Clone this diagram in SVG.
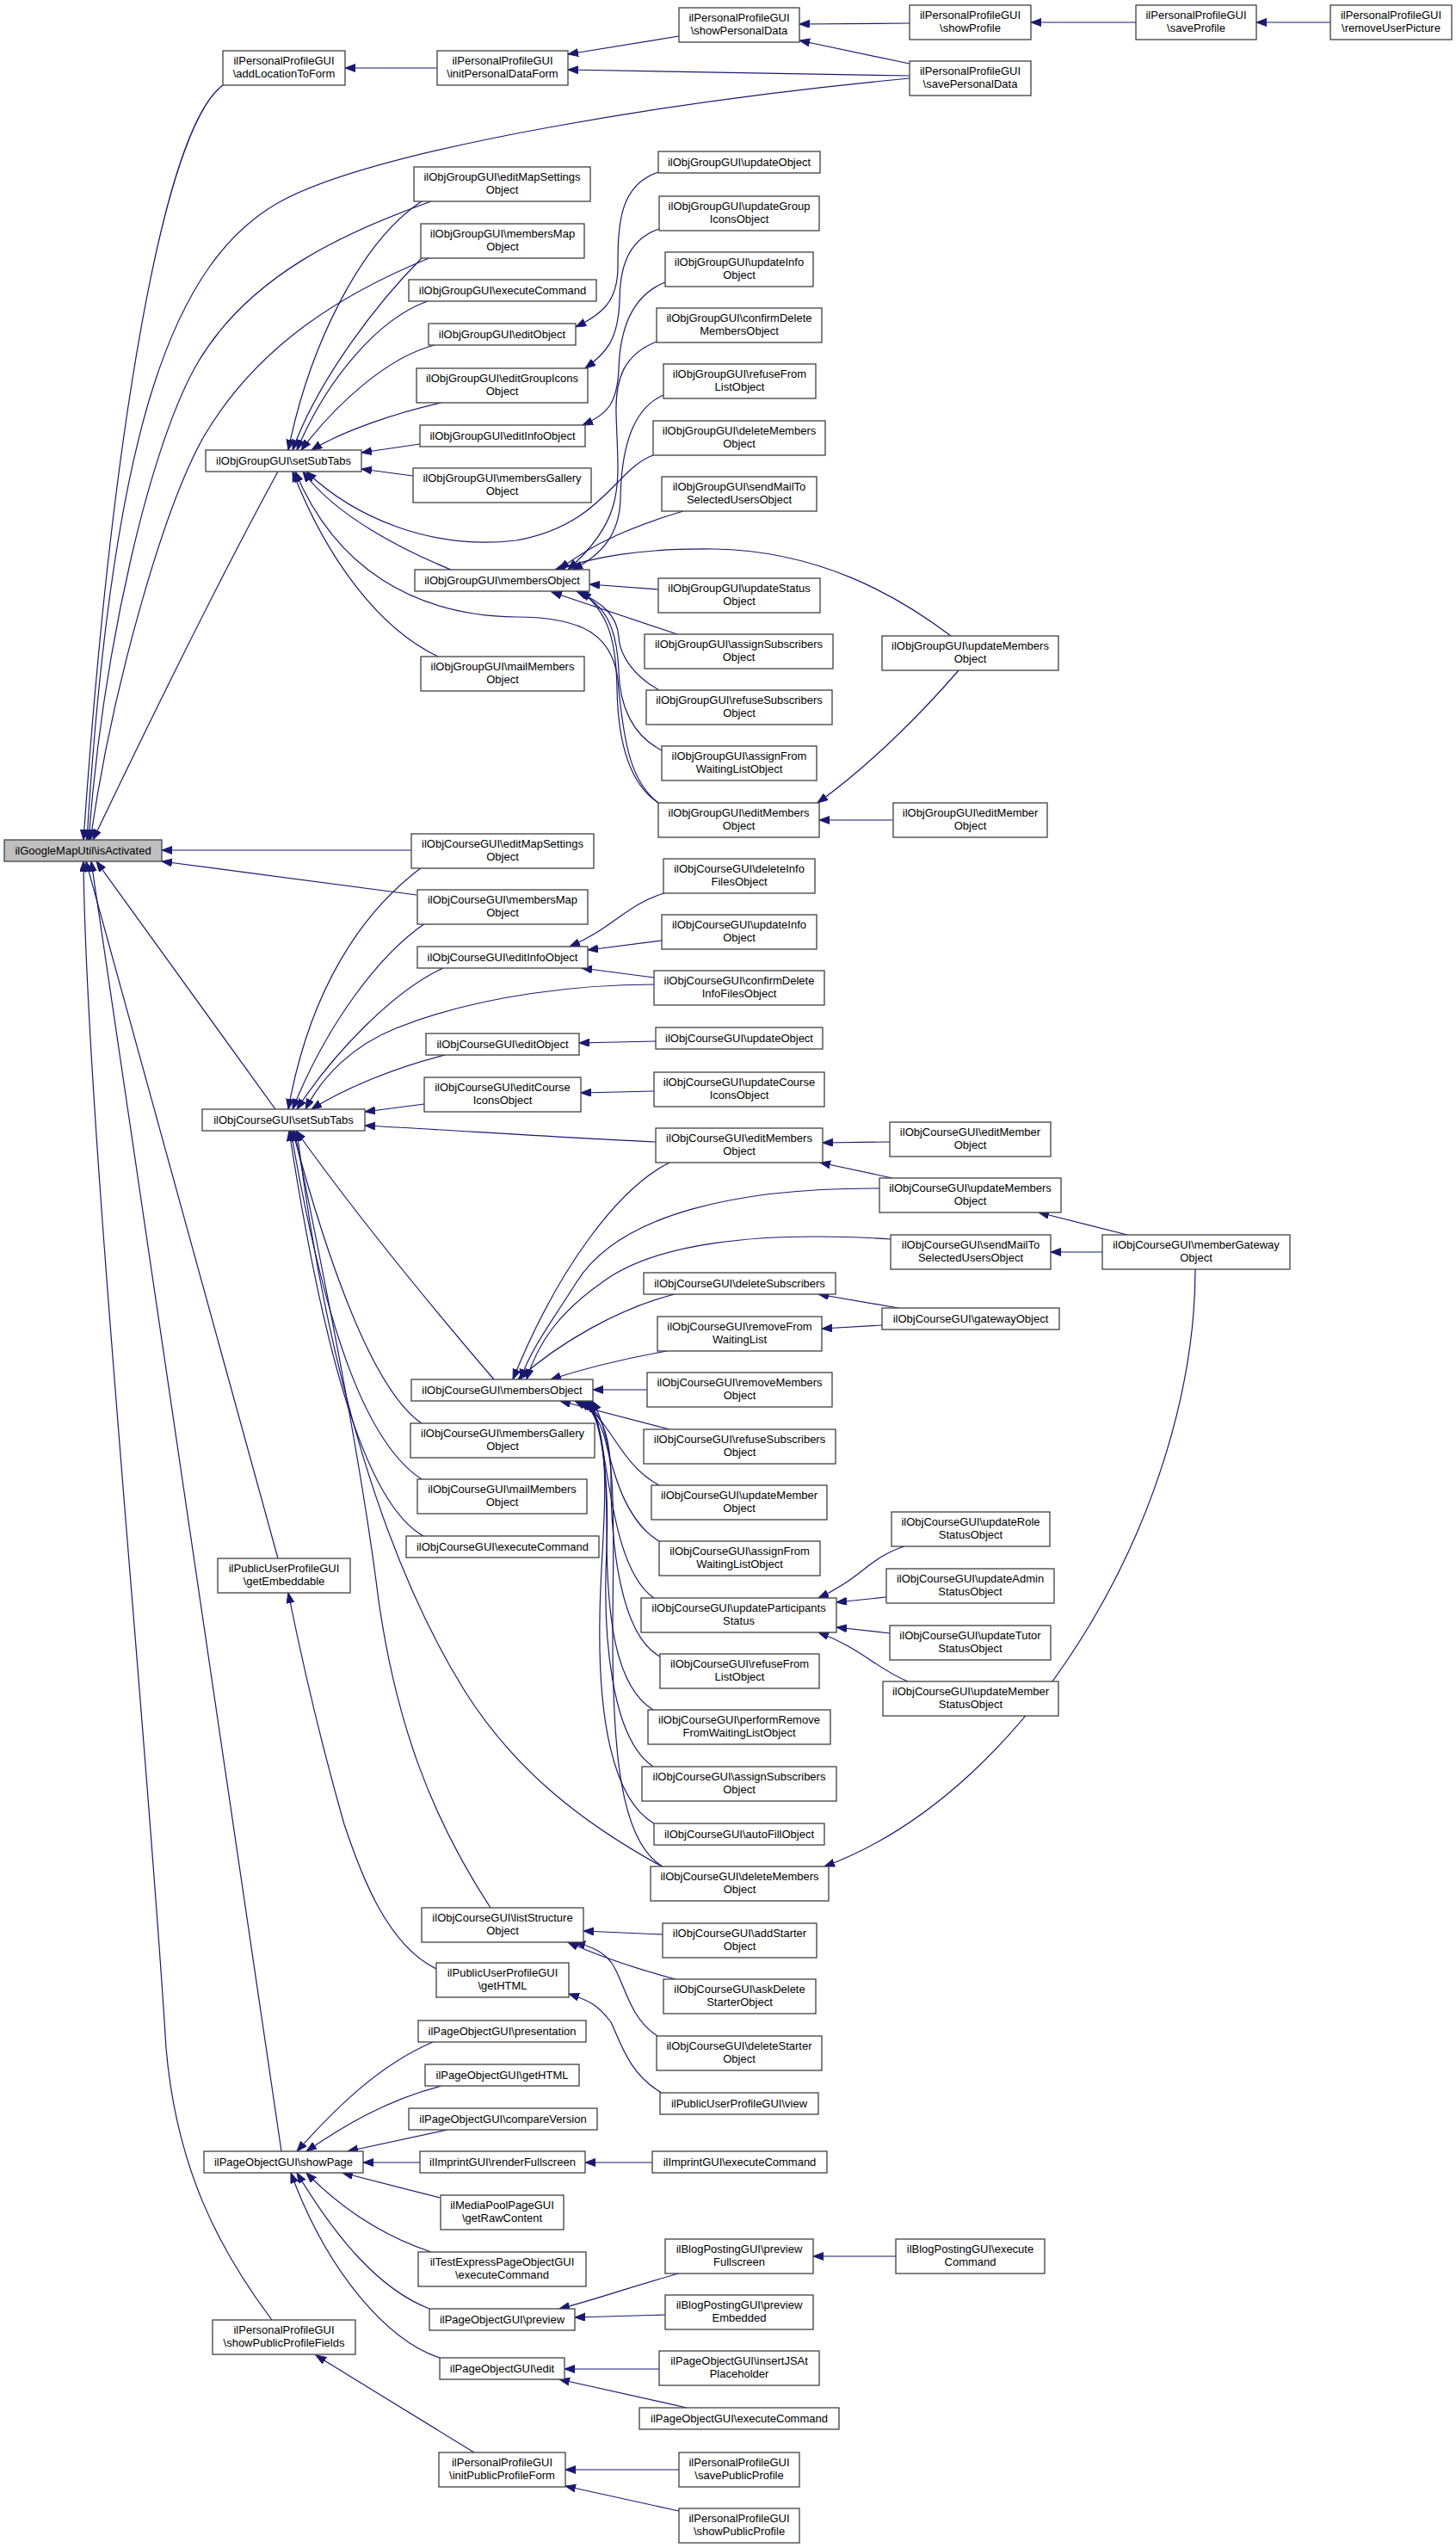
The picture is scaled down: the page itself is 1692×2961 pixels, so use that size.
<svg xmlns="http://www.w3.org/2000/svg" width="1692" height="2961" viewBox="0 0 1692 2961">
<style>
.e{fill:none;stroke:#191970;stroke-width:1.2;marker-end:url(#ah)}
.n rect{fill:#fff;stroke:#404040;stroke-width:1.3}
.r rect{fill:#bfbfbf;stroke:#404040;stroke-width:1.3}
text{font-family:"Liberation Sans",Arial,sans-serif;font-size:13px;text-anchor:middle;fill:#000}
</style>
<defs>
<marker id="ah" markerUnits="userSpaceOnUse" markerWidth="13" markerHeight="10" refX="12" refY="4.5" orient="auto">
<path d="M0,0 L12,4.5 L0,9 z" fill="#191970" stroke="#191970" stroke-width="1"/>
</marker>
</defs>
<rect width="1692" height="2961" fill="#fff"/>
<g id="edges">
<path class="e" d="M259,99 C190,150 130,500 97,976"/>
<path class="e" d="M508,79 L401,79"/>
<path class="e" d="M789,42 L660,63"/>
<path class="e" d="M1057,88 L660,81"/>
<path class="e" d="M1057,74 L929,47"/>
<path class="e" d="M1057,27 L929,28"/>
<path class="e" d="M1320,26 L1198,26"/>
<path class="e" d="M1546,26 L1460,26"/>
<path class="e" d="M1057,91 C800,115 450,170 330,232 C200,300 130,500 101,976"/>
<path class="e" d="M323,548 Q240,700 108,976"/>
<path class="e" d="M501,234 C400,270 290,320 230,421 C175,515 120,750 103,976"/>
<path class="e" d="M501,299 C400,340 300,400 237,507 C190,590 130,800 105,976"/>
<path class="e" d="M490,234 C420,280 360,400 335,523"/>
<path class="e" d="M490,300 C440,350 370,440 340,523"/>
<path class="e" d="M497,350 C440,370 380,440 345,523"/>
<path class="e" d="M505,401 C450,415 390,470 350,523"/>
<path class="e" d="M513,468 C460,480 400,500 362,523"/>
<path class="e" d="M488,516 L420,526"/>
<path class="e" d="M480,553 L420,545"/>
<path class="e" d="M524,662 C470,640 390,600 352,548"/>
<path class="e" d="M759,529 C715,545 700,610 600,628 C500,640 410,600 356,548"/>
<path class="e" d="M765,933 C735,910 725,870 718,790 C712,740 680,717 600,717 C480,715 390,660 343,548"/>
<path class="e" d="M509,763 C440,730 380,650 340,548"/>
<path class="e" d="M765,200 C720,215 718,260 718,310 C718,350 700,365 669,380"/>
<path class="e" d="M766,266 C725,280 720,320 720,350 C718,395 705,410 680,428"/>
<path class="e" d="M773,328 C730,345 720,390 719,430 C717,470 705,482 677,494"/>
<path class="e" d="M763,397 C725,412 715,440 716,480 C718,560 730,600 660,662"/>
<path class="e" d="M771,459 C735,475 722,520 721,580 C720,620 700,645 665,662"/>
<path class="e" d="M794,594 C740,610 690,630 650,662"/>
<path class="e" d="M1105,739 C1040,690 950,640 830,638 C740,637 690,648 645,662"/>
<path class="e" d="M765,685 L685,679"/>
<path class="e" d="M787,737 L641,688"/>
<path class="e" d="M766,802 C735,785 720,760 719,740 C717,715 700,700 670,687"/>
<path class="e" d="M769,872 C735,855 720,820 719,780 C717,730 705,705 672,687"/>
<path class="e" d="M765,933 C730,910 718,860 717,800 C716,740 705,710 675,687"/>
<path class="e" d="M1038,953 L952,953"/>
<path class="e" d="M1114,779 C1070,830 1010,890 950,933"/>
<path class="e" d="M478,988 L188,988"/>
<path class="e" d="M484,1040 L188,1001"/>
<path class="e" d="M320,1289 L112,1001"/>
<path class="e" d="M490,1008 C420,1060 360,1150 335,1289"/>
<path class="e" d="M494,1073 C440,1110 380,1190 340,1289"/>
<path class="e" d="M515,1125 C460,1150 390,1220 345,1289"/>
<path class="e" d="M760,1144 C680,1144 560,1155 460,1195 C410,1215 375,1250 355,1289"/>
<path class="e" d="M517,1226 C460,1240 400,1265 362,1289"/>
<path class="e" d="M493,1283 L424,1292"/>
<path class="e" d="M762,1327 C650,1322 520,1313 424,1308"/>
<path class="e" d="M772,1038 C730,1050 710,1080 662,1100"/>
<path class="e" d="M769,1093 L683,1104"/>
<path class="e" d="M760,1136 L676,1125"/>
<path class="e" d="M762,1210 L673,1212"/>
<path class="e" d="M760,1268 L675,1270"/>
<path class="e" d="M1034,1327 L956,1328"/>
<path class="e" d="M1037,1369 L953,1351"/>
<path class="e" d="M1310,1435 L1207,1409"/>
<path class="e" d="M1281,1455 L1221,1455"/>
<path class="e" d="M1389,1475 C1389,1750 1200,2080 958,2169"/>
<path class="e" d="M1035,1440 C880,1430 760,1445 700,1490 C650,1525 625,1560 612,1603"/>
<path class="e" d="M1022,1381 C860,1380 720,1410 670,1490 C645,1530 615,1570 605,1603"/>
<path class="e" d="M778,1351 C720,1380 650,1470 596,1603"/>
<path class="e" d="M784,1504 C720,1520 650,1560 602,1603"/>
<path class="e" d="M1044,1520 L951,1504"/>
<path class="e" d="M1025,1540 L955,1544"/>
<path class="e" d="M775,1570 C730,1578 680,1590 640,1603"/>
<path class="e" d="M752,1615 L689,1615"/>
<path class="e" d="M778,1661 L651,1628"/>
<path class="e" d="M766,1726 C735,1710 720,1680 705,1660 C695,1645 685,1636 668,1628"/>
<path class="e" d="M766,1791 C730,1770 715,1720 705,1680 C700,1655 690,1640 674,1628"/>
<path class="e" d="M760,1857 C720,1830 710,1740 700,1680 C695,1650 688,1638 677,1628"/>
<path class="e" d="M767,1925 C720,1900 710,1790 710,1720 C710,1670 700,1645 680,1628"/>
<path class="e" d="M759,1987 C715,1960 705,1880 705,1780 C705,1700 700,1650 682,1628"/>
<path class="e" d="M759,2053 C710,2020 700,1900 705,1800 C708,1720 700,1660 684,1628"/>
<path class="e" d="M760,2119 C710,2090 695,1990 697,1880 C698,1780 715,1700 686,1628"/>
<path class="e" d="M770,2169 C720,2140 712,2030 712,1900 C712,1780 720,1680 688,1628"/>
<path class="e" d="M769,2169 C680,2120 600,2060 540,1965 C450,1820 380,1600 345,1314"/>
<path class="e" d="M574,1603 C520,1540 420,1420 344,1314"/>
<path class="e" d="M490,1654 C440,1620 390,1500 340,1314"/>
<path class="e" d="M490,1719 C430,1680 380,1560 338,1314"/>
<path class="e" d="M492,1785 C430,1750 380,1600 336,1314"/>
<path class="e" d="M570,2217 C500,2110 460,2000 440,1860 C420,1700 380,1500 342,1314"/>
<path class="e" d="M770,2248 L678,2244"/>
<path class="e" d="M785,2300 C740,2288 700,2275 660,2257"/>
<path class="e" d="M764,2366 C730,2345 725,2300 710,2280 C700,2268 690,2263 668,2257"/>
<path class="e" d="M323,1811 L100,1001"/>
<path class="e" d="M507,2288 C450,2260 420,2180 400,2120 C380,2050 355,1950 335,1851"/>
<path class="e" d="M769,2432 C730,2410 720,2370 710,2350 C695,2330 685,2325 661,2317"/>
<path class="e" d="M327,2500 L106,1001"/>
<path class="e" d="M503,2373 C440,2400 390,2450 345,2500"/>
<path class="e" d="M513,2424 C450,2440 400,2470 356,2500"/>
<path class="e" d="M520,2475 L404,2500"/>
<path class="e" d="M488,2513 L422,2513"/>
<path class="e" d="M511,2554 L398,2525"/>
<path class="e" d="M501,2617 C450,2600 400,2570 356,2525"/>
<path class="e" d="M499,2683 C440,2660 390,2600 345,2525"/>
<path class="e" d="M511,2740 C450,2720 380,2640 338,2525"/>
<path class="e" d="M758,2513 L680,2513"/>
<path class="e" d="M789,2642 C740,2655 700,2670 650,2683"/>
<path class="e" d="M773,2690 L668,2693"/>
<path class="e" d="M1041,2622 L945,2622"/>
<path class="e" d="M766,2753 L656,2753"/>
<path class="e" d="M798,2798 L650,2765"/>
<path class="e" d="M316,2696 C255,2615 205,2520 193,2380 C170,2000 100,1300 97,1001"/>
<path class="e" d="M551,2850 L367,2737"/>
<path class="e" d="M789,2870 L657,2870"/>
<path class="e" d="M789,2918 L657,2889"/>
<path class="e" d="M1051,1797 C1010,1810 1000,1835 951,1857"/>
<path class="e" d="M1030,1856 L972,1862"/>
<path class="e" d="M1034,1898 L972,1891"/>
<path class="e" d="M1055,1954 C1020,1940 1000,1915 951,1897"/>
</g>
<g id="n_isActivated" class="r"><rect x="5" y="976" width="183" height="25"/><text x="96.5" y="992.5">ilGoogleMapUtil\isActivated</text></g>
<g id="n_addLocationToForm" class="n"><rect x="259" y="59" width="142" height="40"/><text x="330" y="75">ilPersonalProfileGUI</text><text x="330" y="90">\addLocationToForm</text></g>
<g id="n_initPersonalDataForm" class="n"><rect x="508" y="59" width="152" height="40"/><text x="584" y="75">ilPersonalProfileGUI</text><text x="584" y="90">\initPersonalDataForm</text></g>
<g id="n_showPersonalData" class="n"><rect x="789" y="9" width="140" height="40"/><text x="859" y="25">ilPersonalProfileGUI</text><text x="859" y="40">\showPersonalData</text></g>
<g id="n_showProfile" class="n"><rect x="1057" y="6" width="141" height="40"/><text x="1127.5" y="22">ilPersonalProfileGUI</text><text x="1127.5" y="37">\showProfile</text></g>
<g id="n_savePersonalData" class="n"><rect x="1057" y="71" width="141" height="40"/><text x="1127.5" y="87">ilPersonalProfileGUI</text><text x="1127.5" y="102">\savePersonalData</text></g>
<g id="n_saveProfile" class="n"><rect x="1320" y="6" width="140" height="40"/><text x="1390" y="22">ilPersonalProfileGUI</text><text x="1390" y="37">\saveProfile</text></g>
<g id="n_removeUserPicture" class="n"><rect x="1546" y="6" width="141" height="40"/><text x="1616.5" y="22">ilPersonalProfileGUI</text><text x="1616.5" y="37">\removeUserPicture</text></g>
<g id="n_g_setSubTabs" class="n"><rect x="239" y="523" width="181" height="25"/><text x="329.5" y="539.5">ilObjGroupGUI\setSubTabs</text></g>
<g id="n_g_editMapSettings" class="n"><rect x="481" y="194" width="205" height="40"/><text x="583.5" y="210">ilObjGroupGUI\editMapSettings</text><text x="583.5" y="225">Object</text></g>
<g id="n_g_membersMap" class="n"><rect x="489" y="260" width="190" height="40"/><text x="584" y="276">ilObjGroupGUI\membersMap</text><text x="584" y="291">Object</text></g>
<g id="n_g_executeCommand" class="n"><rect x="475" y="325" width="218" height="25"/><text x="584" y="341.5">ilObjGroupGUI\executeCommand</text></g>
<g id="n_g_editObject" class="n"><rect x="498" y="376" width="171" height="25"/><text x="583.5" y="392.5">ilObjGroupGUI\editObject</text></g>
<g id="n_g_editGroupIcons" class="n"><rect x="484" y="428" width="199" height="40"/><text x="583.5" y="444">ilObjGroupGUI\editGroupIcons</text><text x="583.5" y="459">Object</text></g>
<g id="n_g_editInfoObject" class="n"><rect x="488" y="494" width="192" height="25"/><text x="584" y="510.5">ilObjGroupGUI\editInfoObject</text></g>
<g id="n_g_membersGallery" class="n"><rect x="480" y="544" width="207" height="40"/><text x="583.5" y="560">ilObjGroupGUI\membersGallery</text><text x="583.5" y="575">Object</text></g>
<g id="n_g_membersObject" class="n"><rect x="482" y="662" width="203" height="25"/><text x="583.5" y="678.5">ilObjGroupGUI\membersObject</text></g>
<g id="n_g_mailMembers" class="n"><rect x="489" y="763" width="190" height="40"/><text x="584" y="779">ilObjGroupGUI\mailMembers</text><text x="584" y="794">Object</text></g>
<g id="n_g_updateObject" class="n"><rect x="765" y="176" width="188" height="25"/><text x="859" y="192.5">ilObjGroupGUI\updateObject</text></g>
<g id="n_g_updateGroupIcons" class="n"><rect x="766" y="228" width="186" height="40"/><text x="859" y="244">ilObjGroupGUI\updateGroup</text><text x="859" y="259">IconsObject</text></g>
<g id="n_g_updateInfo" class="n"><rect x="773" y="293" width="172" height="40"/><text x="859" y="309">ilObjGroupGUI\updateInfo</text><text x="859" y="324">Object</text></g>
<g id="n_g_confirmDeleteMembers" class="n"><rect x="763" y="358" width="192" height="40"/><text x="859" y="374">ilObjGroupGUI\confirmDelete</text><text x="859" y="389">MembersObject</text></g>
<g id="n_g_refuseFromList" class="n"><rect x="771" y="423" width="177" height="40"/><text x="859.5" y="439">ilObjGroupGUI\refuseFrom</text><text x="859.5" y="454">ListObject</text></g>
<g id="n_g_deleteMembers" class="n"><rect x="759" y="489" width="200" height="40"/><text x="859" y="505">ilObjGroupGUI\deleteMembers</text><text x="859" y="520">Object</text></g>
<g id="n_g_sendMail" class="n"><rect x="769" y="554" width="180" height="40"/><text x="859" y="570">ilObjGroupGUI\sendMailTo</text><text x="859" y="585">SelectedUsersObject</text></g>
<g id="n_g_updateStatus" class="n"><rect x="765" y="672" width="188" height="40"/><text x="859" y="688">ilObjGroupGUI\updateStatus</text><text x="859" y="703">Object</text></g>
<g id="n_g_assignSubscribers" class="n"><rect x="749" y="737" width="219" height="40"/><text x="858.5" y="753">ilObjGroupGUI\assignSubscribers</text><text x="858.5" y="768">Object</text></g>
<g id="n_g_refuseSubscribers" class="n"><rect x="751" y="802" width="216" height="40"/><text x="859" y="818">ilObjGroupGUI\refuseSubscribers</text><text x="859" y="833">Object</text></g>
<g id="n_g_assignFromWaitingList" class="n"><rect x="769" y="867" width="180" height="40"/><text x="859" y="883">ilObjGroupGUI\assignFrom</text><text x="859" y="898">WaitingListObject</text></g>
<g id="n_g_editMembers" class="n"><rect x="765" y="933" width="187" height="40"/><text x="858.5" y="949">ilObjGroupGUI\editMembers</text><text x="858.5" y="964">Object</text></g>
<g id="n_g_updateMembers" class="n"><rect x="1025" y="739" width="205" height="40"/><text x="1127.5" y="755">ilObjGroupGUI\updateMembers</text><text x="1127.5" y="770">Object</text></g>
<g id="n_g_editMember" class="n"><rect x="1038" y="933" width="179" height="40"/><text x="1127.5" y="949">ilObjGroupGUI\editMember</text><text x="1127.5" y="964">Object</text></g>
<g id="n_c_setSubTabs" class="n"><rect x="235" y="1289" width="189" height="25"/><text x="329.5" y="1305.5">ilObjCourseGUI\setSubTabs</text></g>
<g id="n_c_editMapSettings" class="n"><rect x="478" y="969" width="212" height="40"/><text x="584" y="985">ilObjCourseGUI\editMapSettings</text><text x="584" y="1000">Object</text></g>
<g id="n_c_membersMap" class="n"><rect x="485" y="1034" width="198" height="40"/><text x="584" y="1050">ilObjCourseGUI\membersMap</text><text x="584" y="1065">Object</text></g>
<g id="n_c_editInfoObject" class="n"><rect x="485" y="1100" width="198" height="25"/><text x="584" y="1116.5">ilObjCourseGUI\editInfoObject</text></g>
<g id="n_c_editObject" class="n"><rect x="495" y="1201" width="178" height="25"/><text x="584" y="1217.5">ilObjCourseGUI\editObject</text></g>
<g id="n_c_editCourseIcons" class="n"><rect x="493" y="1252" width="182" height="40"/><text x="584" y="1268">ilObjCourseGUI\editCourse</text><text x="584" y="1283">IconsObject</text></g>
<g id="n_c_deleteInfoFiles" class="n"><rect x="771" y="998" width="176" height="40"/><text x="859" y="1014">ilObjCourseGUI\deleteInfo</text><text x="859" y="1029">FilesObject</text></g>
<g id="n_c_updateInfo" class="n"><rect x="769" y="1063" width="180" height="40"/><text x="859" y="1079">ilObjCourseGUI\updateInfo</text><text x="859" y="1094">Object</text></g>
<g id="n_c_confirmDeleteInfoFiles" class="n"><rect x="760" y="1128" width="198" height="40"/><text x="859" y="1144">ilObjCourseGUI\confirmDelete</text><text x="859" y="1159">InfoFilesObject</text></g>
<g id="n_c_updateObject" class="n"><rect x="762" y="1194" width="194" height="25"/><text x="859" y="1210.5">ilObjCourseGUI\updateObject</text></g>
<g id="n_c_updateCourseIcons" class="n"><rect x="760" y="1246" width="198" height="40"/><text x="859" y="1262">ilObjCourseGUI\updateCourse</text><text x="859" y="1277">IconsObject</text></g>
<g id="n_c_editMembers" class="n"><rect x="762" y="1311" width="194" height="40"/><text x="859" y="1327">ilObjCourseGUI\editMembers</text><text x="859" y="1342">Object</text></g>
<g id="n_c_editMember" class="n"><rect x="1034" y="1304" width="187" height="40"/><text x="1127.5" y="1320">ilObjCourseGUI\editMember</text><text x="1127.5" y="1335">Object</text></g>
<g id="n_c_updateMembers" class="n"><rect x="1022" y="1369" width="211" height="40"/><text x="1127.5" y="1385">ilObjCourseGUI\updateMembers</text><text x="1127.5" y="1400">Object</text></g>
<g id="n_c_sendMail" class="n"><rect x="1035" y="1435" width="186" height="40"/><text x="1128" y="1451">ilObjCourseGUI\sendMailTo</text><text x="1128" y="1466">SelectedUsersObject</text></g>
<g id="n_c_memberGateway" class="n"><rect x="1281" y="1435" width="218" height="40"/><text x="1390" y="1451">ilObjCourseGUI\memberGateway</text><text x="1390" y="1466">Object</text></g>
<g id="n_c_deleteSubscribers" class="n"><rect x="748" y="1479" width="223" height="25"/><text x="859.5" y="1495.5">ilObjCourseGUI\deleteSubscribers</text></g>
<g id="n_c_gatewayObject" class="n"><rect x="1025" y="1520" width="206" height="25"/><text x="1128" y="1536.5">ilObjCourseGUI\gatewayObject</text></g>
<g id="n_c_removeFromWaitingList" class="n"><rect x="764" y="1530" width="191" height="40"/><text x="859.5" y="1546">ilObjCourseGUI\removeFrom</text><text x="859.5" y="1561">WaitingList</text></g>
<g id="n_c_membersObject" class="n"><rect x="478" y="1603" width="211" height="25"/><text x="583.5" y="1619.5">ilObjCourseGUI\membersObject</text></g>
<g id="n_c_removeMembers" class="n"><rect x="752" y="1595" width="215" height="40"/><text x="859.5" y="1611">ilObjCourseGUI\removeMembers</text><text x="859.5" y="1626">Object</text></g>
<g id="n_c_membersGallery" class="n"><rect x="477" y="1654" width="214" height="40"/><text x="584" y="1670">ilObjCourseGUI\membersGallery</text><text x="584" y="1685">Object</text></g>
<g id="n_c_refuseSubscribers" class="n"><rect x="748" y="1661" width="223" height="40"/><text x="859.5" y="1677">ilObjCourseGUI\refuseSubscribers</text><text x="859.5" y="1692">Object</text></g>
<g id="n_c_mailMembers" class="n"><rect x="485" y="1719" width="197" height="40"/><text x="583.5" y="1735">ilObjCourseGUI\mailMembers</text><text x="583.5" y="1750">Object</text></g>
<g id="n_c_updateMember" class="n"><rect x="757" y="1726" width="204" height="40"/><text x="859" y="1742">ilObjCourseGUI\updateMember</text><text x="859" y="1757">Object</text></g>
<g id="n_c_updateRoleStatus" class="n"><rect x="1036" y="1757" width="184" height="40"/><text x="1128" y="1773">ilObjCourseGUI\updateRole</text><text x="1128" y="1788">StatusObject</text></g>
<g id="n_c_executeCommand" class="n"><rect x="472" y="1785" width="224" height="25"/><text x="584" y="1801.5">ilObjCourseGUI\executeCommand</text></g>
<g id="n_c_assignFromWaitingList" class="n"><rect x="766" y="1791" width="187" height="40"/><text x="859.5" y="1807">ilObjCourseGUI\assignFrom</text><text x="859.5" y="1822">WaitingListObject</text></g>
<g id="n_getEmbeddable" class="n"><rect x="253" y="1811" width="154" height="40"/><text x="330" y="1827">ilPublicUserProfileGUI</text><text x="330" y="1842">\getEmbeddable</text></g>
<g id="n_c_updateAdminStatus" class="n"><rect x="1030" y="1823" width="195" height="40"/><text x="1127.5" y="1839">ilObjCourseGUI\updateAdmin</text><text x="1127.5" y="1854">StatusObject</text></g>
<g id="n_c_updateParticipantsStatus" class="n"><rect x="745" y="1857" width="227" height="40"/><text x="858.5" y="1873">ilObjCourseGUI\updateParticipants</text><text x="858.5" y="1888">Status</text></g>
<g id="n_c_updateTutorStatus" class="n"><rect x="1034" y="1889" width="187" height="40"/><text x="1127.5" y="1905">ilObjCourseGUI\updateTutor</text><text x="1127.5" y="1920">StatusObject</text></g>
<g id="n_c_refuseFromList" class="n"><rect x="767" y="1922" width="185" height="40"/><text x="859.5" y="1938">ilObjCourseGUI\refuseFrom</text><text x="859.5" y="1953">ListObject</text></g>
<g id="n_c_updateMemberStatus" class="n"><rect x="1026" y="1954" width="204" height="40"/><text x="1128" y="1970">ilObjCourseGUI\updateMember</text><text x="1128" y="1985">StatusObject</text></g>
<g id="n_c_performRemove" class="n"><rect x="753" y="1987" width="212" height="40"/><text x="859" y="2003">ilObjCourseGUI\performRemove</text><text x="859" y="2018">FromWaitingListObject</text></g>
<g id="n_c_assignSubscribers" class="n"><rect x="746" y="2053" width="226" height="40"/><text x="859" y="2069">ilObjCourseGUI\assignSubscribers</text><text x="859" y="2084">Object</text></g>
<g id="n_c_autoFill" class="n"><rect x="760" y="2119" width="198" height="25"/><text x="859" y="2135.5">ilObjCourseGUI\autoFillObject</text></g>
<g id="n_c_deleteMembers" class="n"><rect x="756" y="2169" width="207" height="40"/><text x="859.5" y="2185">ilObjCourseGUI\deleteMembers</text><text x="859.5" y="2200">Object</text></g>
<g id="n_c_listStructure" class="n"><rect x="490" y="2217" width="188" height="40"/><text x="584" y="2233">ilObjCourseGUI\listStructure</text><text x="584" y="2248">Object</text></g>
<g id="n_c_addStarter" class="n"><rect x="770" y="2235" width="179" height="40"/><text x="859.5" y="2251">ilObjCourseGUI\addStarter</text><text x="859.5" y="2266">Object</text></g>
<g id="n_pu_getHTML" class="n"><rect x="507" y="2281" width="154" height="40"/><text x="584" y="2297">ilPublicUserProfileGUI</text><text x="584" y="2312">\getHTML</text></g>
<g id="n_c_askDeleteStarter" class="n"><rect x="771" y="2300" width="177" height="40"/><text x="859.5" y="2316">ilObjCourseGUI\askDelete</text><text x="859.5" y="2331">StarterObject</text></g>
<g id="n_c_deleteStarter" class="n"><rect x="763" y="2366" width="192" height="40"/><text x="859" y="2382">ilObjCourseGUI\deleteStarter</text><text x="859" y="2397">Object</text></g>
<g id="n_po_presentation" class="n"><rect x="486" y="2348" width="195" height="25"/><text x="583.5" y="2364.5">ilPageObjectGUI\presentation</text></g>
<g id="n_po_getHTML" class="n"><rect x="494" y="2399" width="179" height="25"/><text x="583.5" y="2415.5">ilPageObjectGUI\getHTML</text></g>
<g id="n_pu_view" class="n"><rect x="767" y="2432" width="184" height="25"/><text x="859" y="2448.5">ilPublicUserProfileGUI\view</text></g>
<g id="n_po_compareVersion" class="n"><rect x="475" y="2450" width="219" height="25"/><text x="584.5" y="2466.5">ilPageObjectGUI\compareVersion</text></g>
<g id="n_po_showPage" class="n"><rect x="237" y="2500" width="185" height="25"/><text x="329.5" y="2516.5">ilPageObjectGUI\showPage</text></g>
<g id="n_imprint_renderFullscreen" class="n"><rect x="488" y="2500" width="192" height="25"/><text x="584" y="2516.5">ilImprintGUI\renderFullscreen</text></g>
<g id="n_imprint_executeCommand" class="n"><rect x="758" y="2500" width="203" height="25"/><text x="859.5" y="2516.5">ilImprintGUI\executeCommand</text></g>
<g id="n_mp_getRawContent" class="n"><rect x="512" y="2551" width="143" height="40"/><text x="583.5" y="2567">ilMediaPoolPageGUI</text><text x="583.5" y="2582">\getRawContent</text></g>
<g id="n_blog_previewFullscreen" class="n"><rect x="773" y="2602" width="172" height="40"/><text x="859" y="2618">ilBlogPostingGUI\preview</text><text x="859" y="2633">Fullscreen</text></g>
<g id="n_blog_executeCommand" class="n"><rect x="1041" y="2602" width="173" height="40"/><text x="1127.5" y="2618">ilBlogPostingGUI\execute</text><text x="1127.5" y="2633">Command</text></g>
<g id="n_te_executeCommand" class="n"><rect x="486" y="2617" width="195" height="40"/><text x="583.5" y="2633">ilTestExpressPageObjectGUI</text><text x="583.5" y="2648">\executeCommand</text></g>
<g id="n_blog_previewEmbedded" class="n"><rect x="773" y="2667" width="172" height="40"/><text x="859" y="2683">ilBlogPostingGUI\preview</text><text x="859" y="2698">Embedded</text></g>
<g id="n_po_preview" class="n"><rect x="499" y="2683" width="169" height="25"/><text x="583.5" y="2699.5">ilPageObjectGUI\preview</text></g>
<g id="n_showPublicProfileFields" class="n"><rect x="247" y="2696" width="166" height="40"/><text x="330" y="2712">ilPersonalProfileGUI</text><text x="330" y="2727">\showPublicProfileFields</text></g>
<g id="n_po_insertJS" class="n"><rect x="766" y="2732" width="186" height="40"/><text x="859" y="2748">ilPageObjectGUI\insertJSAt</text><text x="859" y="2763">Placeholder</text></g>
<g id="n_po_edit" class="n"><rect x="511" y="2740" width="145" height="25"/><text x="583.5" y="2756.5">ilPageObjectGUI\edit</text></g>
<g id="n_po_executeCommand" class="n"><rect x="743" y="2798" width="232" height="25"/><text x="859" y="2814.5">ilPageObjectGUI\executeCommand</text></g>
<g id="n_initPublicProfileForm" class="n"><rect x="510" y="2850" width="147" height="40"/><text x="583.5" y="2866">ilPersonalProfileGUI</text><text x="583.5" y="2881">\initPublicProfileForm</text></g>
<g id="n_savePublicProfile" class="n"><rect x="789" y="2850" width="140" height="40"/><text x="859" y="2866">ilPersonalProfileGUI</text><text x="859" y="2881">\savePublicProfile</text></g>
<g id="n_showPublicProfile" class="n"><rect x="789" y="2915" width="140" height="40"/><text x="859" y="2931">ilPersonalProfileGUI</text><text x="859" y="2946">\showPublicProfile</text></g>
</svg>
